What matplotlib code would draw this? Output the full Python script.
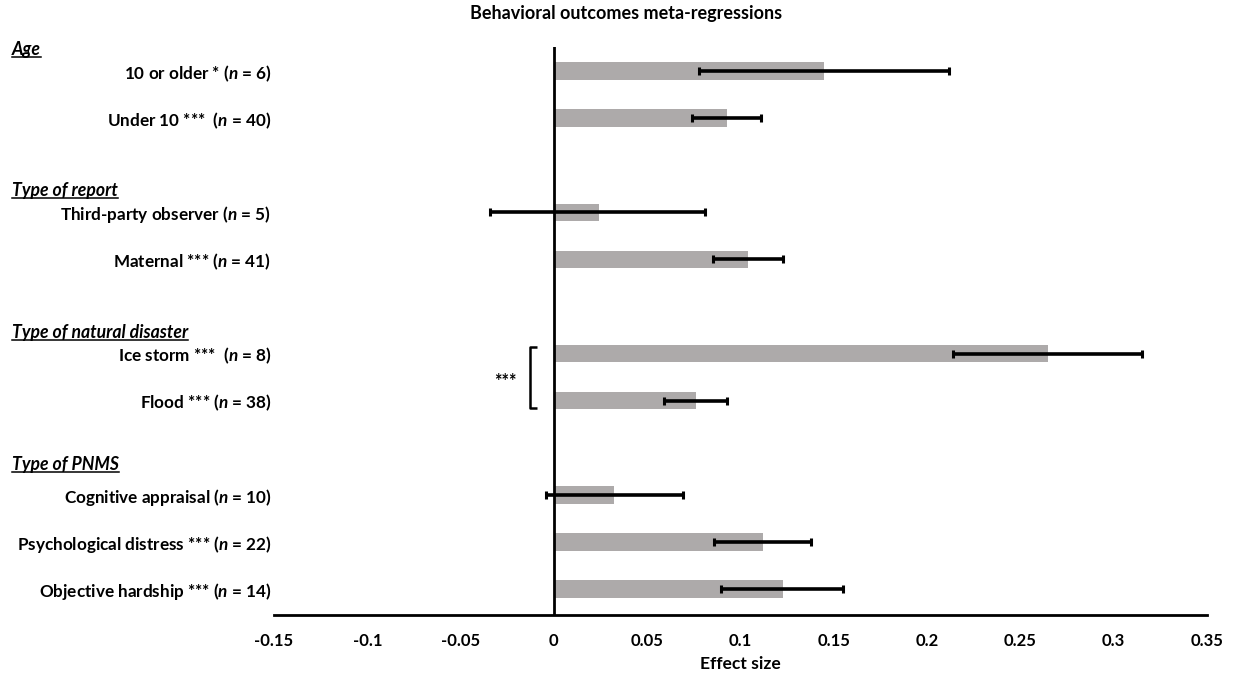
import matplotlib
matplotlib.use("Agg")
import matplotlib.pyplot as plt
from matplotlib.lines import Line2D
import numpy as np

plt.rcParams['font.family'] = ['Lato', 'DejaVu Sans']
plt.rcParams['mathtext.fontset'] = 'custom'
plt.rcParams['mathtext.it'] = 'Lato:italic:bold'
plt.rcParams['mathtext.rm'] = 'Lato:bold'

# ---- data ----
labels = [
    "10 or older * ($n$ = 6)",
    "Under 10 ***  ($n$ = 40)",
    "Third-party observer ($n$ = 5)",
    "Maternal *** ($n$ = 41)",
    "Ice storm ***  ($n$ = 8)",
    "Flood *** ($n$ = 38)",
    "Cognitive appraisal ($n$ = 10)",
    "Psychological distress *** ($n$ = 22)",
    "Objective hardship *** ($n$ = 14)",
]
slots = [0, 1, 3, 4, 6, 7, 9, 10, 11]
effect = [0.145, 0.093, 0.024, 0.104, 0.265, 0.076, 0.032, 0.112, 0.123]
ci_low = [0.078, 0.074, -0.034, 0.085, 0.214, 0.059, -0.004, 0.086, 0.0895]
ci_high = [0.212, 0.111, 0.081, 0.123, 0.315, 0.093, 0.069, 0.138, 0.155]
headers = ["Age", "Type of report", "Type of natural disaster", "Type of PNMS"]
header_pos = [-0.45, 2.53, 5.55, 8.36]
xticks = [-0.15, -0.1, -0.05, 0, 0.05, 0.1, 0.15, 0.2, 0.25, 0.3, 0.35]
xtick_labels = ["-0.15", "-0.1", "-0.05", "0", "0.05", "0.1", "0.15", "0.2", "0.25", "0.3", "0.35"]

fig = plt.figure(figsize=(12.4, 6.73), dpi=100)
ax = fig.add_axes([274/1240, 1-615/673, (1207-274)/1240, (615-47)/673])

eff = np.array(effect)
err = np.array([eff - np.array(ci_low), np.array(ci_high) - eff])
ax.barh(slots, effect, height=0.37, color='#ADAAAA', zorder=1)
ax.errorbar(effect, slots, xerr=err, fmt='none', ecolor='black',
            elinewidth=2.6, capsize=2.8, capthick=2.2, zorder=3)

ax.set_xlim(-0.15, 0.35)
ax.set_ylim(11.55, -0.51)
ax.axvline(0, color='black', lw=2, zorder=2)

for s in ['top', 'right', 'left']:
    ax.spines[s].set_visible(False)
ax.spines['bottom'].set_linewidth(2)
ax.set_xticks(xticks)
ax.set_xticklabels(xtick_labels, fontsize=12, fontweight='bold')
ax.tick_params(axis='x', length=0, pad=13)
ax.set_yticks(slots)
ax.set_yticklabels(labels, fontsize=12.3, fontweight='bold')
ax.tick_params(axis='y', length=0, pad=2)
ax.set_xlabel("Effect size", fontsize=12.6, fontweight='bold', labelpad=5)

fig.text(0.505, 1-14/673, "Behavioral outcomes meta-regressions", ha='center', va='center',
         fontsize=13, fontweight='bold')

# bracket
bx = -0.0129
ax.plot([bx + 0.004, bx, bx, bx + 0.004], [5.85, 5.85, 7.15, 7.15], color='black', lw=1.8,
        solid_capstyle='butt', clip_on=False)
ax.text(-0.026, 6.6, "***", ha='center', va='center', fontsize=13, fontweight='bold')

# headers (underlined)
trans = matplotlib.transforms.blended_transform_factory(fig.transFigure, ax.transData)
htexts = []
for h, y in zip(headers, header_pos):
    t = ax.text(12/1240, y, h, transform=trans, ha='left', va='center', fontsize=12.7,
                fontweight='bold', fontstyle='italic', clip_on=False)
    htexts.append(t)

fig.canvas.draw()
r = fig.canvas.get_renderer()
for t in htexts:
    bb = t.get_window_extent(renderer=r)
    x0, x1 = bb.x0 / fig.bbox.width, bb.x1 / fig.bbox.width
    yb = (bb.y0 + 1) / fig.bbox.height
    fig.add_artist(Line2D([x0, x1], [yb, yb], transform=fig.transFigure, color='black', lw=1.1))

fig.savefig("out.png", dpi=100)
